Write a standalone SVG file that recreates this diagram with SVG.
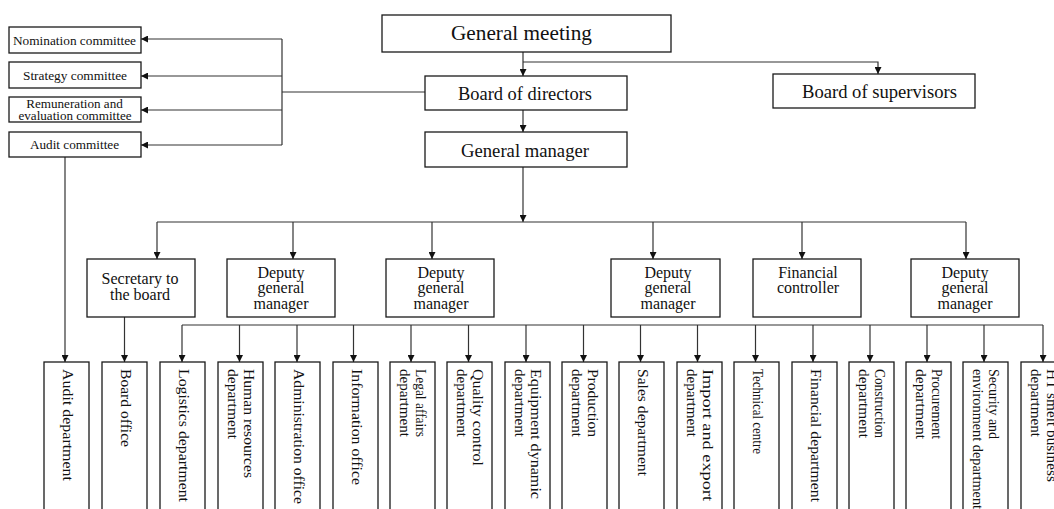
<svg xmlns="http://www.w3.org/2000/svg" width="1054" height="509" viewBox="0 0 1054 509">
<defs>
<marker id="ah" markerUnits="userSpaceOnUse" markerWidth="7" markerHeight="7" refX="7" refY="3.5" orient="auto">
<path d="M0,0 L7,3.5 L0,7 z" fill="#111"/>
</marker>
</defs>
<style>
.box{fill:#fff;stroke:#1a1a1a;stroke-width:1.3}
.ln{fill:none;stroke:#333;stroke-width:1.2}
.arr{marker-end:url(#ah)}
text{font-family:"Liberation Serif","Times New Roman",serif;fill:#111}
.c{text-anchor:middle}
.t20{font-size:20px}
.t19{font-size:19px}
.t13{font-size:13.5px}
.t12{font-size:12.5px}
.t16{font-size:16px}
.v{font-size:14px}
</style>
<rect width="1054" height="509" fill="#fff"/>

<g id="connectors">
<path class="ln arr" d="M523,52 V76"/>
<path class="ln arr" d="M523,62 H878 V74"/>
<path class="ln arr" d="M523,110 V132"/>
<path class="ln" d="M425,92 H282"/>
<path class="ln" d="M282,39 V145"/>
<path class="ln arr" d="M282,39 H141"/>
<path class="ln arr" d="M282,76 H141"/>
<path class="ln arr" d="M282,110 H141"/>
<path class="ln arr" d="M282,145 H141"/>
<path class="ln arr" d="M65,157 V362"/>
<path class="ln arr" d="M523,167 V222"/>
<path class="ln" d="M157,222 H966"/>
<path class="ln arr" d="M157,222 V259"/>
<path class="ln arr" d="M293,222 V259"/>
<path class="ln arr" d="M432,222 V259"/>
<path class="ln arr" d="M653,222 V259"/>
<path class="ln arr" d="M802,222 V259"/>
<path class="ln arr" d="M966,222 V259"/>
<path class="ln arr" d="M124.5,317 V362"/>
<path class="ln" d="M182,325 H1043"/>
<path class="ln arr" d="M182,325 V362"/>
<path class="ln arr" d="M239.5,325 V362"/>
<path class="ln arr" d="M297,325 V362"/>
<path class="ln arr" d="M353.5,325 V362"/>
<path class="ln arr" d="M411,325 V362"/>
<path class="ln arr" d="M468.5,325 V362"/>
<path class="ln arr" d="M526,325 V362"/>
<path class="ln arr" d="M583.5,325 V362"/>
<path class="ln arr" d="M640.5,325 V362"/>
<path class="ln arr" d="M697.5,325 V362"/>
<path class="ln arr" d="M755.5,325 V362"/>
<path class="ln arr" d="M813,325 V362"/>
<path class="ln arr" d="M870,325 V362"/>
<path class="ln arr" d="M927,325 V362"/>
<path class="ln arr" d="M984,325 V362"/>
<path class="ln arr" d="M1043,325 V362"/>
</g>

<g id="general-meeting">
<rect class="box" x="382" y="15" width="289" height="37"/>
<text class="c t20" x="521.5" y="40" textLength="141" lengthAdjust="spacingAndGlyphs">General meeting</text>
</g>
<g id="board-of-directors">
<rect class="box" x="425" y="76" width="202" height="34"/>
<text class="c t19" x="525" y="100" textLength="134" lengthAdjust="spacingAndGlyphs">Board of directors</text>
</g>
<g id="board-of-supervisors">
<rect class="box" x="773" y="74" width="202" height="34"/>
<text class="c t19" x="879.5" y="97.5" textLength="155" lengthAdjust="spacingAndGlyphs">Board of supervisors</text>
</g>
<g id="general-manager">
<rect class="box" x="425" y="132" width="202" height="35"/>
<text class="c t19" x="525" y="156.5" textLength="128" lengthAdjust="spacingAndGlyphs">General manager</text>
</g>

<g id="nomination-committee">
<rect class="box" x="9" y="27" width="132" height="26"/>
<text class="c t13" x="74.5" y="44.5" textLength="123" lengthAdjust="spacingAndGlyphs">Nomination committee</text>
</g>
<g id="strategy-committee">
<rect class="box" x="9" y="62" width="132" height="26"/>
<text class="c t13" x="75" y="80" textLength="104" lengthAdjust="spacingAndGlyphs">Strategy committee</text>
</g>
<g id="remuneration-committee">
<rect class="box" x="9" y="97" width="132" height="25"/>
<text class="c t12" x="74.5" y="108" textLength="96.7" lengthAdjust="spacingAndGlyphs">Remuneration and</text>
<text class="c t12" x="75" y="120" textLength="113" lengthAdjust="spacingAndGlyphs">evaluation committee</text>
</g>
<g id="audit-committee">
<rect class="box" x="9" y="132" width="132" height="25"/>
<text class="c t13" x="74.5" y="149.3" textLength="89" lengthAdjust="spacingAndGlyphs">Audit committee</text>
</g>

<g id="secretary">
<rect class="box" x="87" y="259" width="108" height="58"/>
<text class="c t16" x="140" y="284">Secretary to</text>
<text class="c t16" x="140" y="300">the board</text>
</g>
<g id="dgm1">
<rect class="box" x="227" y="259" width="108" height="58"/>
<text class="c t16" x="281" y="277.5">Deputy</text>
<text class="c t16" x="281" y="293">general</text>
<text class="c t16" x="281" y="308.5">manager</text>
</g>
<g id="dgm2">
<rect class="box" x="386" y="259" width="108" height="58"/>
<text class="c t16" x="441" y="277.5">Deputy</text>
<text class="c t16" x="441" y="293">general</text>
<text class="c t16" x="441" y="308.5">manager</text>
</g>
<g id="dgm3">
<rect class="box" x="611" y="259" width="109" height="58"/>
<text class="c t16" x="668" y="277.5">Deputy</text>
<text class="c t16" x="668" y="293">general</text>
<text class="c t16" x="668" y="308.5">manager</text>
</g>
<g id="financial-controller">
<rect class="box" x="753" y="259" width="108" height="58"/>
<text class="c t16" x="808" y="277.5">Financial</text>
<text class="c t16" x="808" y="293">controller</text>
</g>
<g id="dgm4">
<rect class="box" x="911" y="259" width="108" height="58"/>
<text class="c t16" x="965" y="277.5">Deputy</text>
<text class="c t16" x="965" y="293">general</text>
<text class="c t16" x="965" y="308.5">manager</text>
</g>

<g id="audit-department">
<rect class="box" x="44" y="362" width="45" height="160"/>
<text class="v" transform="translate(66.5,362) rotate(90)" x="7" y="4" textLength="112" lengthAdjust="spacingAndGlyphs">Audit department</text>
</g>
<g id="board-office">
<rect class="box" x="102" y="362" width="45" height="160"/>
<text class="v" transform="translate(124.5,362) rotate(90)" x="7" y="4" textLength="78" lengthAdjust="spacingAndGlyphs">Board office</text>
</g>
<g id="logistics-department">
<rect class="box" x="160" y="362" width="45" height="160"/>
<text class="v" transform="translate(182.5,362) rotate(90)" x="7" y="4" textLength="133" lengthAdjust="spacingAndGlyphs">Logistics department</text>
</g>
<g id="hr-department">
<rect class="box" x="218" y="362" width="45" height="160"/>
<text class="v" transform="translate(240.5,362) rotate(90)" x="7" y="-3" textLength="109" lengthAdjust="spacingAndGlyphs">Human resources</text>
<text class="v" transform="translate(240.5,362) rotate(90)" x="7" y="13" textLength="70" lengthAdjust="spacingAndGlyphs">department</text>
</g>
<g id="administration-office">
<rect class="box" x="275" y="362" width="45" height="160"/>
<text class="v" transform="translate(297.5,362) rotate(90)" x="7" y="4" textLength="135" lengthAdjust="spacingAndGlyphs">Administration office</text>
</g>
<g id="information-office">
<rect class="box" x="333" y="362" width="45" height="160"/>
<text class="v" transform="translate(355.5,362) rotate(90)" x="7" y="4" textLength="116" lengthAdjust="spacingAndGlyphs">Information office</text>
</g>
<g id="legal-affairs-department">
<rect class="box" x="390" y="362" width="45" height="160"/>
<text class="v" transform="translate(412.5,362) rotate(90)" x="7" y="-3" textLength="68" lengthAdjust="spacingAndGlyphs">Legal affairs</text>
<text class="v" transform="translate(412.5,362) rotate(90)" x="7" y="13" textLength="68" lengthAdjust="spacingAndGlyphs">department</text>
</g>
<g id="quality-control-department">
<rect class="box" x="447" y="362" width="45" height="160"/>
<text class="v" transform="translate(469.5,362) rotate(90)" x="7" y="-3" textLength="97" lengthAdjust="spacingAndGlyphs">Quality control</text>
<text class="v" transform="translate(469.5,362) rotate(90)" x="7" y="13" textLength="68" lengthAdjust="spacingAndGlyphs">department</text>
</g>
<g id="equipment-dynamic-department">
<rect class="box" x="505" y="362" width="45" height="160"/>
<text class="v" transform="translate(527.5,362) rotate(90)" x="7" y="-3" textLength="130" lengthAdjust="spacingAndGlyphs">Equipment dynamic</text>
<text class="v" transform="translate(527.5,362) rotate(90)" x="7" y="13" textLength="68" lengthAdjust="spacingAndGlyphs">department</text>
</g>
<g id="production-department">
<rect class="box" x="562" y="362" width="45" height="160"/>
<text class="v" transform="translate(584.5,362) rotate(90)" x="7" y="-3" textLength="68" lengthAdjust="spacingAndGlyphs">Production</text>
<text class="v" transform="translate(584.5,362) rotate(90)" x="7" y="13" textLength="68" lengthAdjust="spacingAndGlyphs">department</text>
</g>
<g id="sales-department">
<rect class="box" x="619" y="362" width="45" height="160"/>
<text class="v" transform="translate(641.5,362) rotate(90)" x="7" y="4" textLength="107" lengthAdjust="spacingAndGlyphs">Sales department</text>
</g>
<g id="import-export-department">
<rect class="box" x="677" y="362" width="45" height="160"/>
<text class="v" transform="translate(699.5,362) rotate(90)" x="7" y="-3" textLength="132" lengthAdjust="spacingAndGlyphs">Import and export</text>
<text class="v" transform="translate(699.5,362) rotate(90)" x="7" y="13" textLength="68" lengthAdjust="spacingAndGlyphs">department</text>
</g>
<g id="technical-centre">
<rect class="box" x="734" y="362" width="45" height="160"/>
<text class="v" transform="translate(756.5,362) rotate(90)" x="7" y="4" textLength="85" lengthAdjust="spacingAndGlyphs">Technical centre</text>
</g>
<g id="financial-department">
<rect class="box" x="792" y="362" width="45" height="160"/>
<text class="v" transform="translate(814.5,362) rotate(90)" x="7" y="4" textLength="133" lengthAdjust="spacingAndGlyphs">Financial department</text>
</g>
<g id="construction-department">
<rect class="box" x="849" y="362" width="45" height="160"/>
<text class="v" transform="translate(871.5,362) rotate(90)" x="7" y="-3" textLength="69" lengthAdjust="spacingAndGlyphs">Construction</text>
<text class="v" transform="translate(871.5,362) rotate(90)" x="7" y="13" textLength="69" lengthAdjust="spacingAndGlyphs">department</text>
</g>
<g id="procurement-department">
<rect class="box" x="906" y="362" width="45" height="160"/>
<text class="v" transform="translate(928.5,362) rotate(90)" x="7" y="-3" textLength="70" lengthAdjust="spacingAndGlyphs">Procurement</text>
<text class="v" transform="translate(928.5,362) rotate(90)" x="7" y="13" textLength="70" lengthAdjust="spacingAndGlyphs">department</text>
</g>
<g id="security-environment-department">
<rect class="box" x="963" y="362" width="45" height="160"/>
<text class="v" transform="translate(985.5,362) rotate(90)" x="7" y="-3" textLength="70" lengthAdjust="spacingAndGlyphs">Security and</text>
<text class="v" transform="translate(985.5,362) rotate(90)" x="7" y="13" textLength="140" lengthAdjust="spacingAndGlyphs">environment department</text>
</g>
<g id="ht-smelt-business-department">
<rect class="box" x="1021" y="362" width="45" height="160"/>
<text class="v" transform="translate(1043.5,362) rotate(90)" x="7" y="-3" textLength="113" lengthAdjust="spacingAndGlyphs">HT smelt business</text>
<text class="v" transform="translate(1043.5,362) rotate(90)" x="7" y="13" textLength="68" lengthAdjust="spacingAndGlyphs">department</text>
</g>
</svg>
